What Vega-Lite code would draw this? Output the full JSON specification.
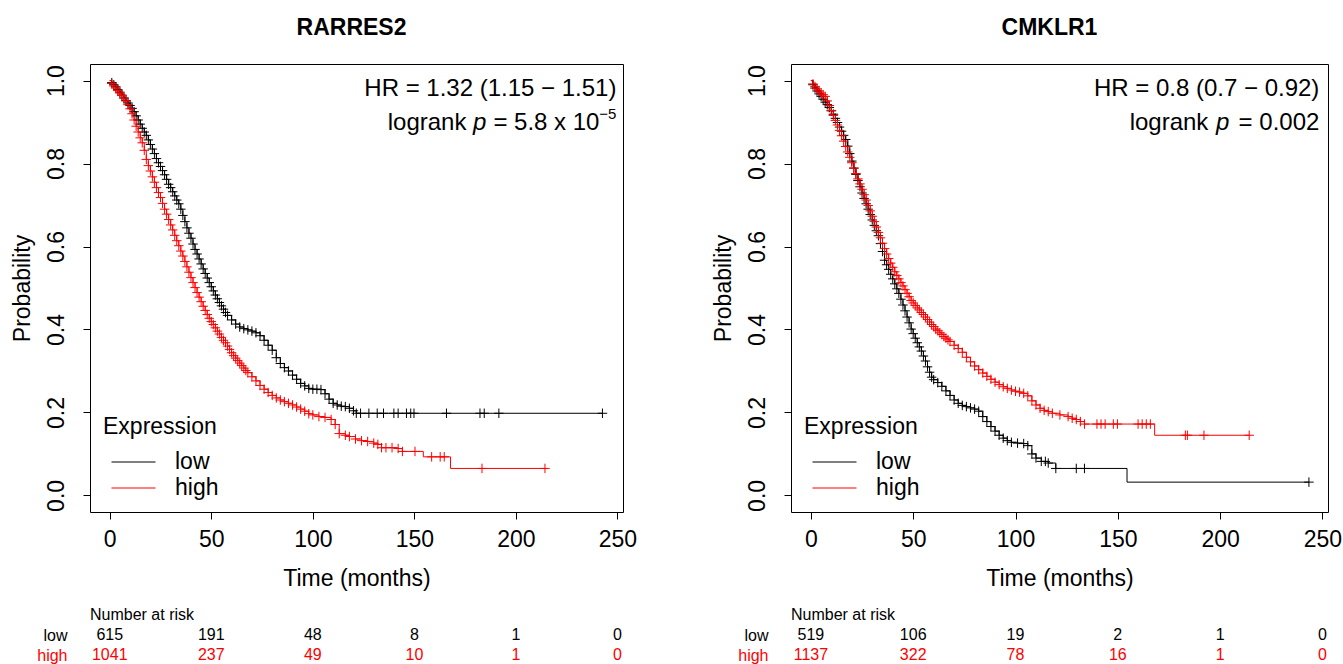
{
  "$schema": "https://vega.github.io/schema/vega-lite/v6.json",
  "padding": {"left": 10, "top": 16, "right": 0, "bottom": 0},
  "background": "white",
  "config": {
    "font": "Liberation Sans",
    "view": {"stroke": "black", "strokeWidth": 1},
    "axis": {"labelFontSize": 23, "titleFontSize": 23, "titleFontWeight": "normal", "labelColor": "black", "titleColor": "black", "tickColor": "black", "domain": false, "grid": false, "tickSize": 7, "labelFlush": false, "labelOverlap": false},
    "axisY": {"labelAngle": 270, "labelAlign": "center", "labelBaseline": "bottom", "labelPadding": 15, "titlePadding": 11},
    "axisX": {"labelPadding": 9, "titlePadding": 16},
    "title": {"fontSize": 23, "fontWeight": "bold", "color": "black", "anchor": "middle", "offset": 24}
  },
  "datasets": {
    "km": [
      {"g":"RARRES2","e":"low","t":0,"s":1.0,"c":0},
      {"g":"RARRES2","e":"low","t":1,"s":0.995},{"g":"RARRES2","e":"low","t":2,"s":0.99},{"g":"RARRES2","e":"low","t":3,"s":0.985},{"g":"RARRES2","e":"low","t":4,"s":0.978},{"g":"RARRES2","e":"low","t":5,"s":0.972},{"g":"RARRES2","e":"low","t":6,"s":0.965},{"g":"RARRES2","e":"low","t":7,"s":0.958},{"g":"RARRES2","e":"low","t":8,"s":0.952},{"g":"RARRES2","e":"low","t":9,"s":0.946},{"g":"RARRES2","e":"low","t":10,"s":0.94},
      {"g":"RARRES2","e":"low","t":11,"s":0.933},{"g":"RARRES2","e":"low","t":12,"s":0.925},{"g":"RARRES2","e":"low","t":13,"s":0.915},{"g":"RARRES2","e":"low","t":14,"s":0.905},{"g":"RARRES2","e":"low","t":15,"s":0.895},{"g":"RARRES2","e":"low","t":16,"s":0.885},{"g":"RARRES2","e":"low","t":17,"s":0.876},{"g":"RARRES2","e":"low","t":18,"s":0.868},{"g":"RARRES2","e":"low","t":19,"s":0.857},{"g":"RARRES2","e":"low","t":20,"s":0.846},
      {"g":"RARRES2","e":"low","t":21,"s":0.835},{"g":"RARRES2","e":"low","t":22,"s":0.824},{"g":"RARRES2","e":"low","t":23,"s":0.812},{"g":"RARRES2","e":"low","t":24,"s":0.802},{"g":"RARRES2","e":"low","t":25,"s":0.793},{"g":"RARRES2","e":"low","t":26,"s":0.783},{"g":"RARRES2","e":"low","t":27,"s":0.773},{"g":"RARRES2","e":"low","t":28,"s":0.762},{"g":"RARRES2","e":"low","t":29,"s":0.75},{"g":"RARRES2","e":"low","t":30,"s":0.742},
      {"g":"RARRES2","e":"low","t":31,"s":0.732},{"g":"RARRES2","e":"low","t":32,"s":0.722},{"g":"RARRES2","e":"low","t":33,"s":0.712},{"g":"RARRES2","e":"low","t":34,"s":0.703},{"g":"RARRES2","e":"low","t":35,"s":0.69},{"g":"RARRES2","e":"low","t":36,"s":0.675},{"g":"RARRES2","e":"low","t":37,"s":0.66},{"g":"RARRES2","e":"low","t":38,"s":0.645},{"g":"RARRES2","e":"low","t":39,"s":0.632},{"g":"RARRES2","e":"low","t":40,"s":0.62},
      {"g":"RARRES2","e":"low","t":41,"s":0.606},{"g":"RARRES2","e":"low","t":42,"s":0.593},{"g":"RARRES2","e":"low","t":43,"s":0.582},{"g":"RARRES2","e":"low","t":44,"s":0.57},{"g":"RARRES2","e":"low","t":45,"s":0.558},{"g":"RARRES2","e":"low","t":46,"s":0.546},{"g":"RARRES2","e":"low","t":47,"s":0.535},{"g":"RARRES2","e":"low","t":48,"s":0.524},{"g":"RARRES2","e":"low","t":49,"s":0.513},{"g":"RARRES2","e":"low","t":50,"s":0.503},
      {"g":"RARRES2","e":"low","t":51,"s":0.493},{"g":"RARRES2","e":"low","t":52,"s":0.483},{"g":"RARRES2","e":"low","t":53,"s":0.474},{"g":"RARRES2","e":"low","t":54,"s":0.465},{"g":"RARRES2","e":"low","t":55,"s":0.457},{"g":"RARRES2","e":"low","t":56,"s":0.449},{"g":"RARRES2","e":"low","t":57,"s":0.441},{"g":"RARRES2","e":"low","t":58,"s":0.434},{"g":"RARRES2","e":"low","t":60,"s":0.423},{"g":"RARRES2","e":"low","t":62,"s":0.413},
      {"g":"RARRES2","e":"low","t":64,"s":0.406},{"g":"RARRES2","e":"low","t":66,"s":0.402},{"g":"RARRES2","e":"low","t":68,"s":0.399},{"g":"RARRES2","e":"low","t":70,"s":0.396},{"g":"RARRES2","e":"low","t":72,"s":0.392},{"g":"RARRES2","e":"low","t":74,"s":0.385},{"g":"RARRES2","e":"low","t":76,"s":0.374},{"g":"RARRES2","e":"low","t":78,"s":0.362},{"g":"RARRES2","e":"low","t":80,"s":0.35},{"g":"RARRES2","e":"low","t":82,"s":0.332},
      {"g":"RARRES2","e":"low","t":84,"s":0.318},{"g":"RARRES2","e":"low","t":86,"s":0.308},{"g":"RARRES2","e":"low","t":88,"s":0.3},{"g":"RARRES2","e":"low","t":90,"s":0.29},{"g":"RARRES2","e":"low","t":92,"s":0.28},{"g":"RARRES2","e":"low","t":94,"s":0.27},{"g":"RARRES2","e":"low","t":96,"s":0.264},{"g":"RARRES2","e":"low","t":98,"s":0.258},{"g":"RARRES2","e":"low","t":100,"s":0.256},{"g":"RARRES2","e":"low","t":102,"s":0.256},
      {"g":"RARRES2","e":"low","t":104,"s":0.255},{"g":"RARRES2","e":"low","t":106,"s":0.245},{"g":"RARRES2","e":"low","t":108,"s":0.232},{"g":"RARRES2","e":"low","t":110,"s":0.222},{"g":"RARRES2","e":"low","t":112,"s":0.218},{"g":"RARRES2","e":"low","t":114,"s":0.215},{"g":"RARRES2","e":"low","t":116,"s":0.214},{"g":"RARRES2","e":"low","t":118,"s":0.21},{"g":"RARRES2","e":"low","t":120,"s":0.204},{"g":"RARRES2","e":"low","t":121.4,"s":0.198},
      {"g":"RARRES2","e":"low","t":123.5,"s":0.198},{"g":"RARRES2","e":"low","t":127.6,"s":0.198},{"g":"RARRES2","e":"low","t":131.7,"s":0.198},{"g":"RARRES2","e":"low","t":134.8,"s":0.198},{"g":"RARRES2","e":"low","t":139.9,"s":0.198},{"g":"RARRES2","e":"low","t":142,"s":0.198},{"g":"RARRES2","e":"low","t":146.1,"s":0.198},{"g":"RARRES2","e":"low","t":148.2,"s":0.198},{"g":"RARRES2","e":"low","t":149.8,"s":0.198},{"g":"RARRES2","e":"low","t":165.8,"s":0.198},{"g":"RARRES2","e":"low","t":182.3,"s":0.198},{"g":"RARRES2","e":"low","t":184.4,"s":0.198},{"g":"RARRES2","e":"low","t":191.6,"s":0.198},{"g":"RARRES2","e":"low","t":242.6,"s":0.198},

      {"g":"RARRES2","e":"high","t":0,"s":1.0,"c":0},
      {"g":"RARRES2","e":"high","t":1,"s":0.993},{"g":"RARRES2","e":"high","t":2,"s":0.987},{"g":"RARRES2","e":"high","t":3,"s":0.982},{"g":"RARRES2","e":"high","t":4,"s":0.976},{"g":"RARRES2","e":"high","t":5,"s":0.97},{"g":"RARRES2","e":"high","t":6,"s":0.964},{"g":"RARRES2","e":"high","t":7,"s":0.958},{"g":"RARRES2","e":"high","t":8,"s":0.951},{"g":"RARRES2","e":"high","t":9,"s":0.942},{"g":"RARRES2","e":"high","t":10,"s":0.932},
      {"g":"RARRES2","e":"high","t":11,"s":0.92},{"g":"RARRES2","e":"high","t":12,"s":0.905},{"g":"RARRES2","e":"high","t":13,"s":0.89},{"g":"RARRES2","e":"high","t":14,"s":0.876},{"g":"RARRES2","e":"high","t":15,"s":0.862},{"g":"RARRES2","e":"high","t":16,"s":0.85},{"g":"RARRES2","e":"high","t":17,"s":0.832},{"g":"RARRES2","e":"high","t":18,"s":0.81},{"g":"RARRES2","e":"high","t":19,"s":0.795},{"g":"RARRES2","e":"high","t":20,"s":0.782},
      {"g":"RARRES2","e":"high","t":21,"s":0.768},{"g":"RARRES2","e":"high","t":22,"s":0.755},{"g":"RARRES2","e":"high","t":23,"s":0.742},{"g":"RARRES2","e":"high","t":24,"s":0.73},{"g":"RARRES2","e":"high","t":25,"s":0.718},{"g":"RARRES2","e":"high","t":26,"s":0.704},{"g":"RARRES2","e":"high","t":27,"s":0.69},{"g":"RARRES2","e":"high","t":28,"s":0.678},{"g":"RARRES2","e":"high","t":29,"s":0.665},{"g":"RARRES2","e":"high","t":30,"s":0.652},
      {"g":"RARRES2","e":"high","t":31,"s":0.64},{"g":"RARRES2","e":"high","t":32,"s":0.627},{"g":"RARRES2","e":"high","t":33,"s":0.614},{"g":"RARRES2","e":"high","t":34,"s":0.602},{"g":"RARRES2","e":"high","t":35,"s":0.589},{"g":"RARRES2","e":"high","t":36,"s":0.577},{"g":"RARRES2","e":"high","t":37,"s":0.564},{"g":"RARRES2","e":"high","t":38,"s":0.551},{"g":"RARRES2","e":"high","t":39,"s":0.538},{"g":"RARRES2","e":"high","t":40,"s":0.525},
      {"g":"RARRES2","e":"high","t":41,"s":0.513},{"g":"RARRES2","e":"high","t":42,"s":0.501},{"g":"RARRES2","e":"high","t":43,"s":0.489},{"g":"RARRES2","e":"high","t":44,"s":0.478},{"g":"RARRES2","e":"high","t":45,"s":0.467},{"g":"RARRES2","e":"high","t":46,"s":0.456},{"g":"RARRES2","e":"high","t":47,"s":0.446},{"g":"RARRES2","e":"high","t":48,"s":0.436},{"g":"RARRES2","e":"high","t":49,"s":0.427},{"g":"RARRES2","e":"high","t":50,"s":0.419},
      {"g":"RARRES2","e":"high","t":51,"s":0.412},{"g":"RARRES2","e":"high","t":52,"s":0.404},{"g":"RARRES2","e":"high","t":53,"s":0.396},{"g":"RARRES2","e":"high","t":54,"s":0.389},{"g":"RARRES2","e":"high","t":55,"s":0.381},{"g":"RARRES2","e":"high","t":56,"s":0.374},{"g":"RARRES2","e":"high","t":57,"s":0.368},{"g":"RARRES2","e":"high","t":58,"s":0.36},{"g":"RARRES2","e":"high","t":59,"s":0.352},{"g":"RARRES2","e":"high","t":60,"s":0.344},
      {"g":"RARRES2","e":"high","t":61,"s":0.337},{"g":"RARRES2","e":"high","t":62,"s":0.331},{"g":"RARRES2","e":"high","t":63,"s":0.325},{"g":"RARRES2","e":"high","t":64,"s":0.319},{"g":"RARRES2","e":"high","t":65,"s":0.313},{"g":"RARRES2","e":"high","t":66,"s":0.307},{"g":"RARRES2","e":"high","t":67,"s":0.301},{"g":"RARRES2","e":"high","t":68,"s":0.296},{"g":"RARRES2","e":"high","t":70,"s":0.286},{"g":"RARRES2","e":"high","t":72,"s":0.276},
      {"g":"RARRES2","e":"high","t":74,"s":0.265},{"g":"RARRES2","e":"high","t":76,"s":0.256},{"g":"RARRES2","e":"high","t":78,"s":0.248},{"g":"RARRES2","e":"high","t":80,"s":0.241},{"g":"RARRES2","e":"high","t":82,"s":0.235},{"g":"RARRES2","e":"high","t":84,"s":0.23},{"g":"RARRES2","e":"high","t":86,"s":0.226},{"g":"RARRES2","e":"high","t":88,"s":0.222},{"g":"RARRES2","e":"high","t":90,"s":0.218},{"g":"RARRES2","e":"high","t":92,"s":0.213},
      {"g":"RARRES2","e":"high","t":94,"s":0.208},{"g":"RARRES2","e":"high","t":96,"s":0.203},{"g":"RARRES2","e":"high","t":98,"s":0.197},{"g":"RARRES2","e":"high","t":100,"s":0.194},{"g":"RARRES2","e":"high","t":103,"s":0.19},{"g":"RARRES2","e":"high","t":106,"s":0.188},{"g":"RARRES2","e":"high","t":109,"s":0.183},{"g":"RARRES2","e":"high","t":111,"s":0.171},{"g":"RARRES2","e":"high","t":113,"s":0.149},{"g":"RARRES2","e":"high","t":116,"s":0.145},
      {"g":"RARRES2","e":"high","t":118,"s":0.142},{"g":"RARRES2","e":"high","t":121,"s":0.136},{"g":"RARRES2","e":"high","t":124,"s":0.132},{"g":"RARRES2","e":"high","t":127,"s":0.13},{"g":"RARRES2","e":"high","t":130,"s":0.126},{"g":"RARRES2","e":"high","t":132,"s":0.123},{"g":"RARRES2","e":"high","t":133.8,"s":0.115},{"g":"RARRES2","e":"high","t":136,"s":0.115},{"g":"RARRES2","e":"high","t":139,"s":0.115},{"g":"RARRES2","e":"high","t":142,"s":0.113},
      {"g":"RARRES2","e":"high","t":144.1,"s":0.106},{"g":"RARRES2","e":"high","t":150.3,"s":0.106},{"g":"RARRES2","e":"high","t":154.4,"s":0.093,"c":0},{"g":"RARRES2","e":"high","t":158.5,"s":0.093},{"g":"RARRES2","e":"high","t":162.7,"s":0.093},{"g":"RARRES2","e":"high","t":164.7,"s":0.093},{"g":"RARRES2","e":"high","t":167.8,"s":0.065,"c":0},{"g":"RARRES2","e":"high","t":183.3,"s":0.065},{"g":"RARRES2","e":"high","t":214.3,"s":0.065},

      {"g":"CMKLR1","e":"low","t":0,"s":1.0,"c":0},
      {"g":"CMKLR1","e":"low","t":1,"s":0.99},{"g":"CMKLR1","e":"low","t":2,"s":0.982},{"g":"CMKLR1","e":"low","t":3,"s":0.975},{"g":"CMKLR1","e":"low","t":4,"s":0.968},{"g":"CMKLR1","e":"low","t":5,"s":0.962},{"g":"CMKLR1","e":"low","t":6,"s":0.955},{"g":"CMKLR1","e":"low","t":7,"s":0.948},{"g":"CMKLR1","e":"low","t":8,"s":0.942},{"g":"CMKLR1","e":"low","t":9,"s":0.935},{"g":"CMKLR1","e":"low","t":10,"s":0.927},
      {"g":"CMKLR1","e":"low","t":11,"s":0.919},{"g":"CMKLR1","e":"low","t":12,"s":0.909},{"g":"CMKLR1","e":"low","t":13,"s":0.899},{"g":"CMKLR1","e":"low","t":14,"s":0.888},{"g":"CMKLR1","e":"low","t":15,"s":0.878},{"g":"CMKLR1","e":"low","t":16,"s":0.868},{"g":"CMKLR1","e":"low","t":17,"s":0.858},{"g":"CMKLR1","e":"low","t":18,"s":0.842},{"g":"CMKLR1","e":"low","t":19,"s":0.824},{"g":"CMKLR1","e":"low","t":20,"s":0.806},
      {"g":"CMKLR1","e":"low","t":21,"s":0.789},{"g":"CMKLR1","e":"low","t":22,"s":0.774},{"g":"CMKLR1","e":"low","t":23,"s":0.759},{"g":"CMKLR1","e":"low","t":24,"s":0.744},{"g":"CMKLR1","e":"low","t":25,"s":0.729},{"g":"CMKLR1","e":"low","t":26,"s":0.716},{"g":"CMKLR1","e":"low","t":27,"s":0.703},{"g":"CMKLR1","e":"low","t":28,"s":0.69},{"g":"CMKLR1","e":"low","t":29,"s":0.677},{"g":"CMKLR1","e":"low","t":30,"s":0.664},
      {"g":"CMKLR1","e":"low","t":31,"s":0.651},{"g":"CMKLR1","e":"low","t":32,"s":0.638},{"g":"CMKLR1","e":"low","t":33,"s":0.626},{"g":"CMKLR1","e":"low","t":34,"s":0.607},{"g":"CMKLR1","e":"low","t":35,"s":0.588},{"g":"CMKLR1","e":"low","t":36,"s":0.567},{"g":"CMKLR1","e":"low","t":37,"s":0.556},{"g":"CMKLR1","e":"low","t":38,"s":0.545},{"g":"CMKLR1","e":"low","t":39,"s":0.533},{"g":"CMKLR1","e":"low","t":40,"s":0.522},
      {"g":"CMKLR1","e":"low","t":41,"s":0.51},{"g":"CMKLR1","e":"low","t":42,"s":0.498},{"g":"CMKLR1","e":"low","t":43,"s":0.487},{"g":"CMKLR1","e":"low","t":44,"s":0.473},{"g":"CMKLR1","e":"low","t":45,"s":0.459},{"g":"CMKLR1","e":"low","t":46,"s":0.445},{"g":"CMKLR1","e":"low","t":47,"s":0.43},{"g":"CMKLR1","e":"low","t":48,"s":0.416},{"g":"CMKLR1","e":"low","t":49,"s":0.401},{"g":"CMKLR1","e":"low","t":50,"s":0.39},
      {"g":"CMKLR1","e":"low","t":51,"s":0.379},{"g":"CMKLR1","e":"low","t":52,"s":0.368},{"g":"CMKLR1","e":"low","t":53,"s":0.358},{"g":"CMKLR1","e":"low","t":54,"s":0.348},{"g":"CMKLR1","e":"low","t":55,"s":0.336},{"g":"CMKLR1","e":"low","t":56,"s":0.324},{"g":"CMKLR1","e":"low","t":57,"s":0.31},{"g":"CMKLR1","e":"low","t":58,"s":0.297},{"g":"CMKLR1","e":"low","t":59,"s":0.285},{"g":"CMKLR1","e":"low","t":60,"s":0.279},
      {"g":"CMKLR1","e":"low","t":62,"s":0.272},{"g":"CMKLR1","e":"low","t":64,"s":0.263},{"g":"CMKLR1","e":"low","t":66,"s":0.252},{"g":"CMKLR1","e":"low","t":68,"s":0.241},{"g":"CMKLR1","e":"low","t":70,"s":0.23},{"g":"CMKLR1","e":"low","t":72,"s":0.222},{"g":"CMKLR1","e":"low","t":74,"s":0.217},{"g":"CMKLR1","e":"low","t":76,"s":0.214},{"g":"CMKLR1","e":"low","t":78,"s":0.211},{"g":"CMKLR1","e":"low","t":80,"s":0.208},
      {"g":"CMKLR1","e":"low","t":82,"s":0.203},{"g":"CMKLR1","e":"low","t":84,"s":0.19},{"g":"CMKLR1","e":"low","t":86,"s":0.178},{"g":"CMKLR1","e":"low","t":88,"s":0.166},{"g":"CMKLR1","e":"low","t":90,"s":0.155},{"g":"CMKLR1","e":"low","t":92,"s":0.145},{"g":"CMKLR1","e":"low","t":94,"s":0.138},{"g":"CMKLR1","e":"low","t":96,"s":0.132},{"g":"CMKLR1","e":"low","t":98,"s":0.128},{"g":"CMKLR1","e":"low","t":101,"s":0.126},
      {"g":"CMKLR1","e":"low","t":104,"s":0.125},{"g":"CMKLR1","e":"low","t":106,"s":0.12},{"g":"CMKLR1","e":"low","t":108,"s":0.1},{"g":"CMKLR1","e":"low","t":110,"s":0.09},{"g":"CMKLR1","e":"low","t":112.6,"s":0.082},{"g":"CMKLR1","e":"low","t":114.6,"s":0.082},{"g":"CMKLR1","e":"low","t":116,"s":0.078},{"g":"CMKLR1","e":"low","t":119.7,"s":0.065},{"g":"CMKLR1","e":"low","t":129.7,"s":0.065},{"g":"CMKLR1","e":"low","t":133.7,"s":0.065},
      {"g":"CMKLR1","e":"low","t":154.5,"s":0.032,"c":0},{"g":"CMKLR1","e":"low","t":243.4,"s":0.032},

      {"g":"CMKLR1","e":"high","t":0,"s":1.0,"c":0},
      {"g":"CMKLR1","e":"high","t":1,"s":0.992},{"g":"CMKLR1","e":"high","t":2,"s":0.986},{"g":"CMKLR1","e":"high","t":3,"s":0.98},{"g":"CMKLR1","e":"high","t":4,"s":0.975},{"g":"CMKLR1","e":"high","t":5,"s":0.97},{"g":"CMKLR1","e":"high","t":6,"s":0.966},{"g":"CMKLR1","e":"high","t":7,"s":0.962},{"g":"CMKLR1","e":"high","t":8,"s":0.951},{"g":"CMKLR1","e":"high","t":9,"s":0.94},{"g":"CMKLR1","e":"high","t":10,"s":0.928},
      {"g":"CMKLR1","e":"high","t":11,"s":0.916},{"g":"CMKLR1","e":"high","t":12,"s":0.904},{"g":"CMKLR1","e":"high","t":13,"s":0.893},{"g":"CMKLR1","e":"high","t":14,"s":0.88},{"g":"CMKLR1","e":"high","t":15,"s":0.867},{"g":"CMKLR1","e":"high","t":16,"s":0.854},{"g":"CMKLR1","e":"high","t":17,"s":0.841},{"g":"CMKLR1","e":"high","t":18,"s":0.828},{"g":"CMKLR1","e":"high","t":19,"s":0.815},{"g":"CMKLR1","e":"high","t":20,"s":0.802},
      {"g":"CMKLR1","e":"high","t":21,"s":0.789},{"g":"CMKLR1","e":"high","t":22,"s":0.776},{"g":"CMKLR1","e":"high","t":23,"s":0.763},{"g":"CMKLR1","e":"high","t":24,"s":0.751},{"g":"CMKLR1","e":"high","t":25,"s":0.738},{"g":"CMKLR1","e":"high","t":26,"s":0.725},{"g":"CMKLR1","e":"high","t":27,"s":0.712},{"g":"CMKLR1","e":"high","t":28,"s":0.699},{"g":"CMKLR1","e":"high","t":29,"s":0.686},{"g":"CMKLR1","e":"high","t":30,"s":0.673},
      {"g":"CMKLR1","e":"high","t":31,"s":0.66},{"g":"CMKLR1","e":"high","t":32,"s":0.647},{"g":"CMKLR1","e":"high","t":33,"s":0.634},{"g":"CMKLR1","e":"high","t":34,"s":0.621},{"g":"CMKLR1","e":"high","t":35,"s":0.608},{"g":"CMKLR1","e":"high","t":36,"s":0.595},{"g":"CMKLR1","e":"high","t":37,"s":0.582},{"g":"CMKLR1","e":"high","t":38,"s":0.571},{"g":"CMKLR1","e":"high","t":39,"s":0.56},{"g":"CMKLR1","e":"high","t":40,"s":0.55},
      {"g":"CMKLR1","e":"high","t":41,"s":0.539},{"g":"CMKLR1","e":"high","t":42,"s":0.53},{"g":"CMKLR1","e":"high","t":43,"s":0.522},{"g":"CMKLR1","e":"high","t":44,"s":0.513},{"g":"CMKLR1","e":"high","t":45,"s":0.505},{"g":"CMKLR1","e":"high","t":46,"s":0.496},{"g":"CMKLR1","e":"high","t":47,"s":0.487},{"g":"CMKLR1","e":"high","t":48,"s":0.479},{"g":"CMKLR1","e":"high","t":49,"s":0.47},{"g":"CMKLR1","e":"high","t":50,"s":0.464},
      {"g":"CMKLR1","e":"high","t":51,"s":0.458},{"g":"CMKLR1","e":"high","t":52,"s":0.452},{"g":"CMKLR1","e":"high","t":53,"s":0.447},{"g":"CMKLR1","e":"high","t":54,"s":0.441},{"g":"CMKLR1","e":"high","t":55,"s":0.436},{"g":"CMKLR1","e":"high","t":56,"s":0.43},{"g":"CMKLR1","e":"high","t":57,"s":0.424},{"g":"CMKLR1","e":"high","t":58,"s":0.418},{"g":"CMKLR1","e":"high","t":59,"s":0.412},{"g":"CMKLR1","e":"high","t":60,"s":0.407},
      {"g":"CMKLR1","e":"high","t":61,"s":0.401},{"g":"CMKLR1","e":"high","t":62,"s":0.397},{"g":"CMKLR1","e":"high","t":63,"s":0.392},{"g":"CMKLR1","e":"high","t":64,"s":0.388},{"g":"CMKLR1","e":"high","t":65,"s":0.383},{"g":"CMKLR1","e":"high","t":66,"s":0.379},{"g":"CMKLR1","e":"high","t":67,"s":0.375},{"g":"CMKLR1","e":"high","t":68,"s":0.371},{"g":"CMKLR1","e":"high","t":70,"s":0.362},{"g":"CMKLR1","e":"high","t":72,"s":0.354},
      {"g":"CMKLR1","e":"high","t":74,"s":0.345},{"g":"CMKLR1","e":"high","t":76,"s":0.333},{"g":"CMKLR1","e":"high","t":78,"s":0.322},{"g":"CMKLR1","e":"high","t":80,"s":0.312},{"g":"CMKLR1","e":"high","t":82,"s":0.303},{"g":"CMKLR1","e":"high","t":84,"s":0.295},{"g":"CMKLR1","e":"high","t":86,"s":0.287},{"g":"CMKLR1","e":"high","t":88,"s":0.28},{"g":"CMKLR1","e":"high","t":90,"s":0.273},{"g":"CMKLR1","e":"high","t":92,"s":0.267},
      {"g":"CMKLR1","e":"high","t":94,"s":0.262},{"g":"CMKLR1","e":"high","t":96,"s":0.258},{"g":"CMKLR1","e":"high","t":98,"s":0.254},{"g":"CMKLR1","e":"high","t":100,"s":0.251},{"g":"CMKLR1","e":"high","t":102,"s":0.249},{"g":"CMKLR1","e":"high","t":104,"s":0.246},{"g":"CMKLR1","e":"high","t":106,"s":0.24},{"g":"CMKLR1","e":"high","t":108,"s":0.228},{"g":"CMKLR1","e":"high","t":110,"s":0.218},{"g":"CMKLR1","e":"high","t":112,"s":0.21},
      {"g":"CMKLR1","e":"high","t":114,"s":0.205},{"g":"CMKLR1","e":"high","t":116,"s":0.202},{"g":"CMKLR1","e":"high","t":118,"s":0.198},{"g":"CMKLR1","e":"high","t":121.7,"s":0.194},{"g":"CMKLR1","e":"high","t":125.7,"s":0.19},{"g":"CMKLR1","e":"high","t":127.7,"s":0.186},{"g":"CMKLR1","e":"high","t":129.7,"s":0.183},{"g":"CMKLR1","e":"high","t":131.7,"s":0.178},{"g":"CMKLR1","e":"high","t":133.7,"s":0.172},{"g":"CMKLR1","e":"high","t":139.8,"s":0.172},
      {"g":"CMKLR1","e":"high","t":141.8,"s":0.172},{"g":"CMKLR1","e":"high","t":143.8,"s":0.172},{"g":"CMKLR1","e":"high","t":147.8,"s":0.172},{"g":"CMKLR1","e":"high","t":149.8,"s":0.172},{"g":"CMKLR1","e":"high","t":159.9,"s":0.172},{"g":"CMKLR1","e":"high","t":161.9,"s":0.172},{"g":"CMKLR1","e":"high","t":163.9,"s":0.172},{"g":"CMKLR1","e":"high","t":165.9,"s":0.172},{"g":"CMKLR1","e":"high","t":168,"s":0.145,"c":0},{"g":"CMKLR1","e":"high","t":183,"s":0.145},
      {"g":"CMKLR1","e":"high","t":184,"s":0.145},{"g":"CMKLR1","e":"high","t":192.1,"s":0.145},{"g":"CMKLR1","e":"high","t":214.2,"s":0.145}
    ],
    "risk": [
      {"g":"RARRES2","e":"low","t":0,"n":615},{"g":"RARRES2","e":"low","t":50,"n":191},{"g":"RARRES2","e":"low","t":100,"n":48},{"g":"RARRES2","e":"low","t":150,"n":8},{"g":"RARRES2","e":"low","t":200,"n":1},{"g":"RARRES2","e":"low","t":250,"n":0},
      {"g":"RARRES2","e":"high","t":0,"n":1041},{"g":"RARRES2","e":"high","t":50,"n":237},{"g":"RARRES2","e":"high","t":100,"n":49},{"g":"RARRES2","e":"high","t":150,"n":10},{"g":"RARRES2","e":"high","t":200,"n":1},{"g":"RARRES2","e":"high","t":250,"n":0},
      {"g":"CMKLR1","e":"low","t":0,"n":519},{"g":"CMKLR1","e":"low","t":50,"n":106},{"g":"CMKLR1","e":"low","t":100,"n":19},{"g":"CMKLR1","e":"low","t":150,"n":2},{"g":"CMKLR1","e":"low","t":200,"n":1},{"g":"CMKLR1","e":"low","t":250,"n":0},
      {"g":"CMKLR1","e":"high","t":0,"n":1137},{"g":"CMKLR1","e":"high","t":50,"n":322},{"g":"CMKLR1","e":"high","t":100,"n":78},{"g":"CMKLR1","e":"high","t":150,"n":16},{"g":"CMKLR1","e":"high","t":200,"n":1},{"g":"CMKLR1","e":"high","t":250,"n":0}
    ],
    "stats": [
      {"g":"RARRES2","hr":"HR = 1.32 (1.15 − 1.51)","pv":" = 5.8 x 10","ex":"−5"},
      {"g":"CMKLR1","hr":"HR = 0.8 (0.7 − 0.92)","pv":" = 0.002","ex":""}
    ]
  },
  "columns": 2,
  "spacing": {"row": 16, "column": 73},
  "resolve": {"scale": {"color": "independent"}, "legend": {"color": "independent"}},
  "concat": [
    {
      "width": 533, "height": 448,
      "title": {"text": "RARRES2", "dx": -5},
      "layer": [
        {"data": {"name": "km"}, "transform": [{"filter": "datum.g === 'RARRES2'"}],
         "mark": {"type": "line", "interpolate": "step-after", "strokeWidth": 1},
         "encoding": {
           "x": {"field": "t", "type": "quantitative", "scale": {"domain": [-9.72, 252.72], "nice": false, "zero": false}, "axis": {"values": [0, 50, 100, 150, 200, 250], "title": "Time (months)"}},
           "y": {"field": "s", "type": "quantitative", "scale": {"domain": [-0.04, 1.04], "nice": false, "zero": false}, "axis": {"values": [0, 0.2, 0.4, 0.6, 0.8, 1], "format": ".1f", "title": "Probability"}},
           "color": {"field": "e", "type": "nominal", "scale": {"domain": ["low", "high"], "range": ["black", "red"]},
           "legend": {"title": "Expression", "orient": "none", "legendX": 13, "legendY": 352, "symbolType": "stroke", "symbolSize": 1936, "symbolStrokeWidth": 1, "symbolOffset": 8, "labelFontSize": 23, "titleFontSize": 23, "titleFontWeight": "normal", "labelOffset": 19, "clipHeight": 24, "rowPadding": 2, "titlePadding": 11, "labelColor": "black", "titleColor": "black"}}}},
        {"data": {"name": "km"}, "transform": [{"filter": "datum.g === 'RARRES2' && datum.c !== 0"}],
         "mark": {"type": "point", "shape": "M-1,0L1,0M0,-1L0,1", "filled": false, "size": 90, "strokeWidth": 1, "opacity": 1},
         "encoding": {
           "x": {"field": "t", "type": "quantitative"},
           "y": {"field": "s", "type": "quantitative"},
           "color": {"field": "e", "type": "nominal"}}},
        {"data": {"name": "stats"}, "transform": [{"filter": "datum.g === 'RARRES2'"}],
         "mark": {"type": "text", "align": "right", "baseline": "middle", "fontSize": 24, "fill": "black"},
         "encoding": {"x": {"datum": 249.5}, "y": {"datum": 0.979}, "text": {"field": "hr"}}},
        {"data": {"name": "stats"}, "transform": [{"filter": "datum.g === 'RARRES2'"}],
         "mark": {"type": "text", "align": "right", "baseline": "middle", "fontSize": 15, "dy": -9, "fill": "black"},
         "encoding": {"x": {"datum": 249.5}, "y": {"datum": 0.897}, "text": {"field": "ex"}}},
        {"data": {"name": "stats"}, "transform": [{"filter": "datum.g === 'RARRES2'"}],
         "mark": {"type": "text", "align": "right", "baseline": "middle", "fontSize": 24, "dx": -17, "fill": "black"},
         "encoding": {"x": {"datum": 249.5}, "y": {"datum": 0.897}, "text": {"field": "pv"}}},
        {"data": {"name": "stats"}, "transform": [{"filter": "datum.g === 'RARRES2'"}],
         "mark": {"type": "text", "align": "right", "baseline": "middle", "fontSize": 24, "fontStyle": "italic", "dx": -130, "fill": "black", "text": "p"},
         "encoding": {"x": {"datum": 249.5}, "y": {"datum": 0.897}}},
        {"data": {"name": "stats"}, "transform": [{"filter": "datum.g === 'RARRES2'"}],
         "mark": {"type": "text", "align": "right", "baseline": "middle", "fontSize": 24, "dx": -150, "fill": "black", "text": "logrank"},
         "encoding": {"x": {"datum": 249.5}, "y": {"datum": 0.897}}}
      ]
    },
    {
      "width": 537, "height": 448,
      "title": {"text": "CMKLR1", "dx": -10},
      "layer": [
        {"data": {"name": "km"}, "transform": [{"filter": "datum.g === 'CMKLR1'"}],
         "mark": {"type": "line", "interpolate": "step-after", "strokeWidth": 1},
         "encoding": {
           "x": {"field": "t", "type": "quantitative", "scale": {"domain": [-9.72, 252.72], "nice": false, "zero": false}, "axis": {"values": [0, 50, 100, 150, 200, 250], "title": "Time (months)"}},
           "y": {"field": "s", "type": "quantitative", "scale": {"domain": [-0.04, 1.04], "nice": false, "zero": false}, "axis": {"values": [0, 0.2, 0.4, 0.6, 0.8, 1], "format": ".1f", "title": "Probability"}},
           "color": {"field": "e", "type": "nominal", "scale": {"domain": ["low", "high"], "range": ["black", "red"]},
           "legend": {"title": "Expression", "orient": "none", "legendX": 13, "legendY": 352, "symbolType": "stroke", "symbolSize": 1936, "symbolStrokeWidth": 1, "symbolOffset": 8, "labelFontSize": 23, "titleFontSize": 23, "titleFontWeight": "normal", "labelOffset": 19, "clipHeight": 24, "rowPadding": 2, "titlePadding": 11, "labelColor": "black", "titleColor": "black"}}}},
        {"data": {"name": "km"}, "transform": [{"filter": "datum.g === 'CMKLR1' && datum.c !== 0"}],
         "mark": {"type": "point", "shape": "M-1,0L1,0M0,-1L0,1", "filled": false, "size": 90, "strokeWidth": 1, "opacity": 1},
         "encoding": {
           "x": {"field": "t", "type": "quantitative"},
           "y": {"field": "s", "type": "quantitative"},
           "color": {"field": "e", "type": "nominal"}}},
        {"data": {"name": "stats"}, "transform": [{"filter": "datum.g === 'CMKLR1'"}],
         "mark": {"type": "text", "align": "right", "baseline": "middle", "fontSize": 24, "fill": "black"},
         "encoding": {"x": {"datum": 248.5}, "y": {"datum": 0.979}, "text": {"field": "hr"}}},
        {"data": {"name": "stats"}, "transform": [{"filter": "datum.g === 'CMKLR1'"}],
         "mark": {"type": "text", "align": "right", "baseline": "middle", "fontSize": 24, "fill": "black"},
         "encoding": {"x": {"datum": 248.5}, "y": {"datum": 0.897}, "text": {"field": "pv"}}},
        {"data": {"name": "stats"}, "transform": [{"filter": "datum.g === 'CMKLR1'"}],
         "mark": {"type": "text", "align": "right", "baseline": "middle", "fontSize": 24, "fontStyle": "italic", "dx": -90, "fill": "black", "text": "p"},
         "encoding": {"x": {"datum": 248.5}, "y": {"datum": 0.897}}},
        {"data": {"name": "stats"}, "transform": [{"filter": "datum.g === 'CMKLR1'"}],
         "mark": {"type": "text", "align": "right", "baseline": "middle", "fontSize": 24, "dx": -111, "fill": "black", "text": "logrank"},
         "encoding": {"x": {"datum": 248.5}, "y": {"datum": 0.897}}}
      ]
    },
    {
      "width": 533, "height": 40,
      "view": {"stroke": null},
      "title": {"text": "Number at risk", "anchor": "start", "frame": "group", "fontSize": 16, "fontWeight": "normal", "offset": 2},
      "data": {"name": "risk"},
      "transform": [{"filter": "datum.g === 'RARRES2'"}],
      "mark": {"type": "text", "fontSize": 16, "baseline": "middle"},
      "encoding": {
        "x": {"field": "t", "type": "quantitative", "scale": {"domain": [-9.72, 252.72], "nice": false, "zero": false}, "axis": null},
        "y": {"field": "e", "type": "nominal", "scale": {"domain": ["low", "high"], "paddingInner": 0, "paddingOuter": 0}, "axis": {"title": null, "domain": false, "ticks": false, "labelFontSize": 16, "labelPadding": 23, "labelAngle": 0, "labelAlign": "right", "labelBaseline": "middle", "labelColor": {"condition": {"test": "datum.value === 'high'", "value": "red"}, "value": "black"}}},
        "text": {"field": "n", "type": "quantitative"},
        "color": {"condition": {"test": "datum.e === 'high'", "value": "red"}, "value": "black"}
      }
    },
    {
      "width": 537, "height": 40,
      "view": {"stroke": null},
      "title": {"text": "Number at risk", "anchor": "start", "frame": "group", "fontSize": 16, "fontWeight": "normal", "offset": 2},
      "data": {"name": "risk"},
      "transform": [{"filter": "datum.g === 'CMKLR1'"}],
      "mark": {"type": "text", "fontSize": 16, "baseline": "middle"},
      "encoding": {
        "x": {"field": "t", "type": "quantitative", "scale": {"domain": [-9.72, 252.72], "nice": false, "zero": false}, "axis": null},
        "y": {"field": "e", "type": "nominal", "scale": {"domain": ["low", "high"], "paddingInner": 0, "paddingOuter": 0}, "axis": {"title": null, "domain": false, "ticks": false, "labelFontSize": 16, "labelPadding": 23, "labelAngle": 0, "labelAlign": "right", "labelBaseline": "middle", "labelColor": {"condition": {"test": "datum.value === 'high'", "value": "red"}, "value": "black"}}},
        "text": {"field": "n", "type": "quantitative"},
        "color": {"condition": {"test": "datum.e === 'high'", "value": "red"}, "value": "black"}
      }
    }
  ]
}
